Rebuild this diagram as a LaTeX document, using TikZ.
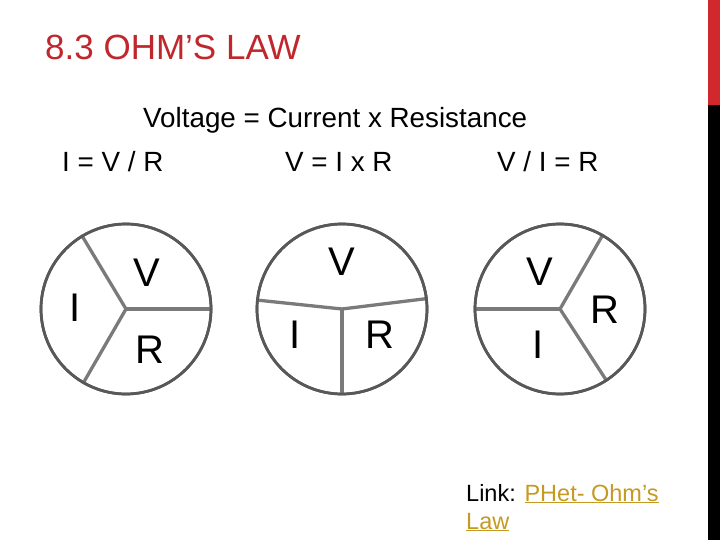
\documentclass[tikz,border=0pt]{standalone}
\usepackage{fontspec}
\setmainfont{Liberation Sans}
\usepackage{xcolor}
\usepackage{tikz}
\usetikzlibrary{positioning, calc}
\definecolor{titleRed}{RGB}{192, 39, 45}
\definecolor{barRed}{RGB}{208, 40, 45}
\definecolor{rimGray}{RGB}{88, 88, 88}
\definecolor{spokeGray}{RGB}{122, 122, 122}
\definecolor{linkGold}{RGB}{197, 154, 34}

\begin{document}
\begin{tikzpicture}[x=1pt, y=-1pt,
    ttl/.style={anchor=base west, inner sep=0pt, text=titleRed, font=\fontsize{35}{40}\selectfont},
    eqn/.style={anchor=base west, inner sep=0pt, font=\fontsize{27.8}{32}\selectfont},
    wheel/.style={circle, draw=rimGray, line width=2.7pt, minimum size=170pt, inner sep=0pt},
    spoke/.style={draw=spokeGray, line width=3.3pt},
    lbl/.style={inner sep=0pt, font=\fontsize{40}{44}\selectfont},
    lnk/.style={anchor=base west, inner sep=0pt, font=\fontsize{23.5}{28}\selectfont}]
    \useasboundingbox (0,0) rectangle (720,540);
    % Side bar
    \fill[barRed] (708,0) rectangle (720,105);
    \fill[black] (708,105) rectangle (720,540);
    % Title and formulas
    \node[ttl] (title) at (45,60) {8.3 OHM’S LAW};
    \node[eqn] (rule) at (143,128) {Voltage = Current x Resistance};
    \node[eqn] (eqI) at (62,172) {I = V / R};
    \node[eqn] (eqV) at (285,172) {V = I x R};
    \node[eqn] (eqR) at (497,172) {V / I = R};
    % Wheel for I
    \node[wheel] (w1) at (126,309) {};
    \coordinate (h1) at (w1.center);
    \draw[spoke] (h1) -- (w1.0);
    \draw[spoke] (h1) -- (w1.121);
    \draw[spoke] (h1) -- (w1.240);
    \node[wheel] (w1) at (126,309) {};
    \node[lbl] (v1) at (147,273) {V};
    \node[lbl] (i1) at (75,308) {I};
    \node[lbl] (r1) at (150,350) {R};
    % Wheel for V
    \node[wheel] (w2) at (342,309) {};
    \coordinate (h2) at (w2.center);
    \draw[spoke] (h2) -- (w2.174);
    \draw[spoke] (h2) -- (w2.7);
    \draw[spoke] (h2) -- (w2.270);
    \node[wheel] (w2) at (342,309) {};
    \node[lbl] (v2) at (342,262) {V};
    \node[lbl] (i2) at (295,335) {I};
    \node[lbl] (r2) at (380,335) {R};
    % Wheel for R
    \node[wheel] (w3) at (560,309) {};
    \coordinate (h3) at (w3.center);
    \draw[spoke] (h3) -- (w3.180);
    \draw[spoke] (h3) -- (w3.60);
    \draw[spoke] (h3) -- (w3.-57);
    \node[wheel] (w3) at (560,309) {};
    \node[lbl] (v3) at (540,272) {V};
    \node[lbl] (r3) at (605,310) {R};
    \node[lbl] (i3) at (538,345) {I};
    % Link
    \node[lnk] (link) at (466,501) {Link: {\color{linkGold}\underline{PHet- Ohm’s}}};
    \node[lnk] (law) at (466,529) {\color{linkGold}\underline{Law}};
\end{tikzpicture}
\end{document}
